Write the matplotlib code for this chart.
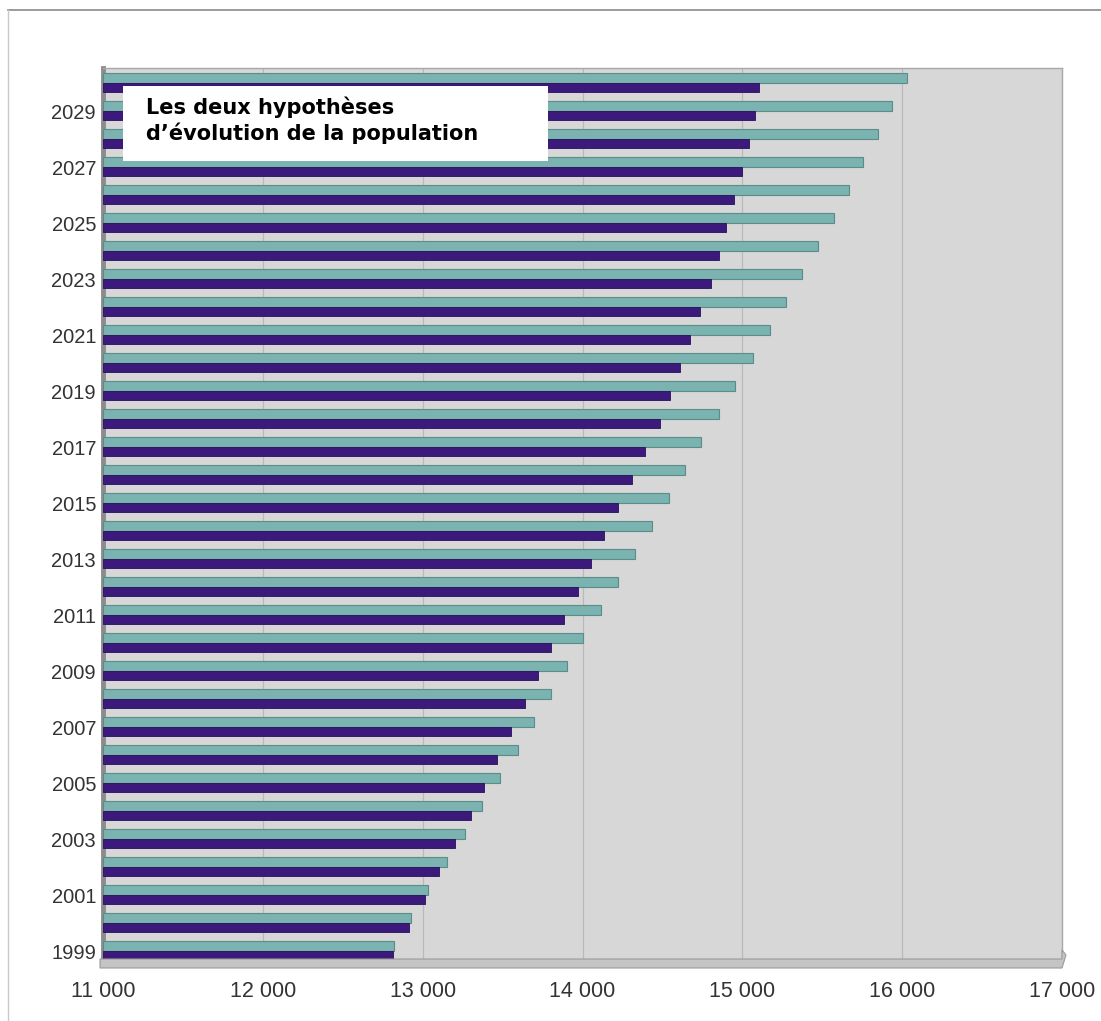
import matplotlib
matplotlib.use("Agg")
import matplotlib.pyplot as plt
from matplotlib.patches import Rectangle, Polygon
from matplotlib.lines import Line2D
import numpy as np

# years and the two population hypotheses (thousands)
years = list(range(1999, 2031))
high_hyp = [12820, 12927, 13036, 13150, 13265, 13374, 13485, 13596, 13698, 13800,
            13906, 14006, 14113, 14220, 14329, 14436, 14541, 14639, 14744, 14855,
            14956, 15065, 15174, 15275, 15373, 15474, 15572, 15667, 15755, 15851,
            15939, 16030]
low_hyp = [12816, 12914, 13015, 13102, 13205, 13301, 13385, 13468, 13552, 13642,
           13721, 13803, 13887, 13969, 14052, 14136, 14220, 14310, 14394, 14482,
           14545, 14608, 14675, 14738, 14807, 14855, 14897, 14948, 14996, 15042,
           15080, 15107]
year_labels = [str(y) for y in range(1999, 2031, 2)]
x_ticks = [11000, 12000, 13000, 14000, 15000, 16000, 17000]
x_labels = ["11 000", "12 000", "13 000", "14 000", "15 000", "16 000", "17 000"]
title = "Les deux hypothèses\nd’évolution de la population"

W, H = 1101, 1021
fig = plt.figure(figsize=(W / 100, H / 100), dpi=100)
ax = fig.add_axes([103 / W, 1 - 960 / H, (1062 - 103) / W, (960 - 68) / H])
ax.set_facecolor("#d7d7d7")

x0 = 11000
y = np.array(years, dtype=float)
ax.barh(y + 0.18, np.array(high_hyp) - x0, left=x0, height=0.36,
        color="#7ab3b0", edgecolor="#5a8c8a", linewidth=0.8, zorder=3)
ax.barh(y - 0.15, np.array(low_hyp) - x0, left=x0, height=0.31,
        color="#3c1a7c", edgecolor="#2a0e5e", linewidth=0.6, zorder=3)

ax.set_xlim(11000, 17000)
ax.set_ylim(1998.68, 2030.55)
ax.set_xticks(x_ticks)
ax.set_xticklabels(x_labels)
ax.set_yticks(range(1999, 2031, 2))
ax.set_yticklabels(year_labels)
ax.grid(axis="x", color="#b9b9b9", linewidth=0.9, zorder=1)
ax.set_axisbelow(True)

tick_font = ["Liberation Sans", "DejaVu Sans"]
for lab in ax.get_yticklabels():
    lab.set_family(tick_font)
    lab.set_fontsize(14.5)
    lab.set_color("#333333")
for lab in ax.get_xticklabels():
    lab.set_family(tick_font)
    lab.set_fontsize(15.5)
    lab.set_color("#333333")
ax.tick_params(axis="y", length=0, pad=5)
ax.tick_params(axis="x", length=0, pad=15)

for side in ["top", "right"]:
    ax.spines[side].set_color("#a8a8a8")
    ax.spines[side].set_linewidth(1.0)
ax.spines["left"].set_color("#8c8c8c")
ax.spines["left"].set_linewidth(3.5)
ax.spines["bottom"].set_visible(False)

# 3D-looking floor under the wall
floor = Polygon([(100 / W, 1 - 959 / H), (1062 / W, 1 - 959 / H), (1062 / W, 1 - 950 / H),
                 (1066 / W, 1 - 955 / H), (1062 / W, 1 - 968 / H), (100 / W, 1 - 968 / H)],
                closed=True, transform=fig.transFigure, facecolor="#c4c4c4",
                edgecolor="#9a9a9a", linewidth=0.8)
fig.add_artist(floor)

# outer frame lines
fig.add_artist(Line2D([8 / W, 1], [1 - 10 / H, 1 - 10 / H], color="#8a8a8a", linewidth=1.2))
fig.add_artist(Line2D([8 / W, 8 / W], [0, 1 - 10 / H], color="#c8c8c8", linewidth=1.0))

# title box
box = Rectangle((123 / W, 1 - 161 / H), 425 / W, 75 / H, transform=fig.transFigure,
                facecolor="white", edgecolor="none", zorder=5)
fig.add_artist(box)
fig.text(146 / W, 1 - 97 / H, title, fontsize=15, color="black", va="top", ha="left",
         family="DejaVu Sans", fontweight="bold", linespacing=1.2, zorder=6)

fig.savefig("out.png", dpi=100, facecolor="white")
